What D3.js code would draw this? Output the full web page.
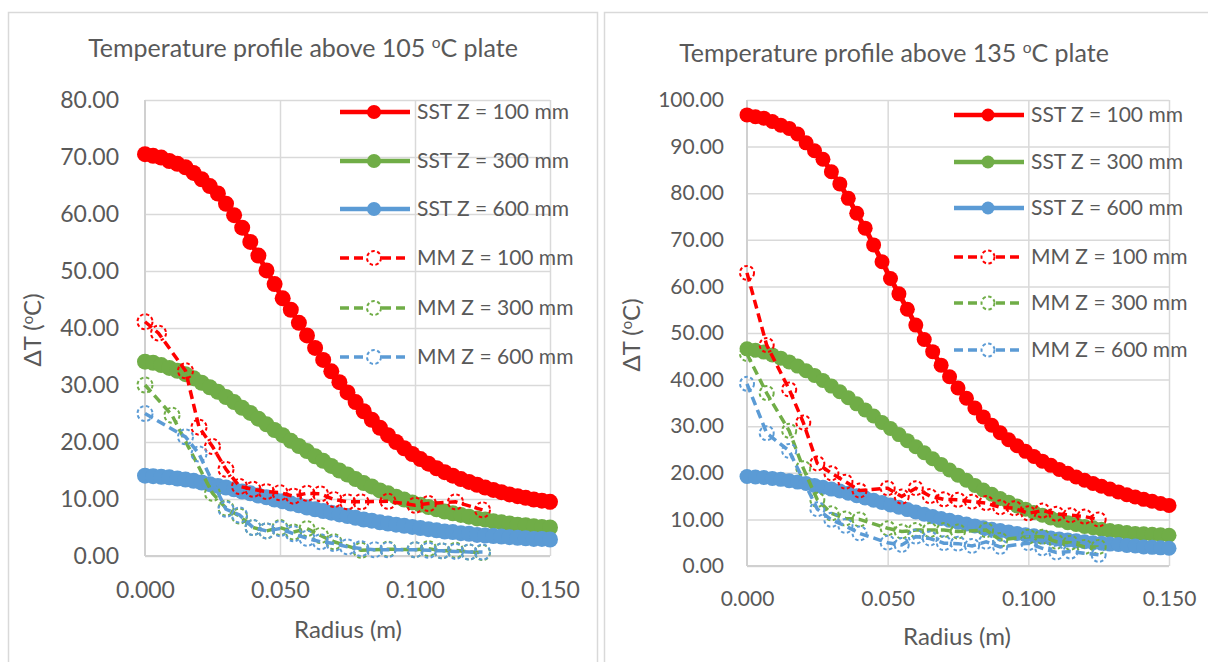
<!DOCTYPE html>
<html lang="en">
<head>
<meta charset="UTF-8"/>
<title>Temperature profiles</title>
<script src="https://d3js.org/d3.v7.min.js"></script>
<style>
	body { margin: 0; background: #fff; }
	text { font-family: Lato, "Liberation Sans", sans-serif; fill: #595959; }
</style>
</head>
<body>
<script>
	//Radius values of the SST series (same for all SST curves)
	var sstRadius = [0.000, 0.003, 0.006, 0.009, 0.012, 0.015, 0.018, 0.021, 0.024, 0.027,
		0.030, 0.033, 0.036, 0.039, 0.042, 0.045, 0.048, 0.051, 0.054, 0.057,
		0.060, 0.063, 0.066, 0.069, 0.072, 0.075, 0.078, 0.081, 0.084, 0.087,
		0.090, 0.093, 0.096, 0.099, 0.102, 0.105, 0.108, 0.111, 0.114, 0.117,
		0.120, 0.123, 0.126, 0.129, 0.132, 0.135, 0.138, 0.141, 0.144, 0.147, 0.150];

	//105 C plate - SST curves
	var sst100_105 = [70.5, 70.2, 69.9, 69.3, 68.8, 68.2, 67.2, 66.1, 64.9, 63.6,
		61.8, 59.8, 57.6, 55.1, 52.7, 50.1, 47.7, 45.2, 43.2, 40.9,
		38.7, 36.5, 34.4, 32.4, 30.5, 28.7, 27.0, 25.4, 23.9, 22.5,
		21.2, 20.0, 18.9, 17.9, 17.0, 16.2, 15.4, 14.7, 14.1, 13.5,
		13.0, 12.5, 12.0, 11.6, 11.2, 10.8, 10.5, 10.2, 9.9, 9.7, 9.5];
	var sst300_105 = [34.1, 33.9, 33.5, 33.0, 32.5, 31.9, 31.2, 30.4, 29.6, 28.8,
		27.9, 27.0, 26.0, 25.1, 24.1, 23.1, 22.1, 21.2, 20.2, 19.3,
		18.4, 17.5, 16.7, 15.8, 15.0, 14.3, 13.5, 12.8, 12.2, 11.5,
		11.0, 10.4, 9.9, 9.4, 9.0, 8.6, 8.2, 7.8, 7.5, 7.2,
		6.9, 6.6, 6.4, 6.1, 5.9, 5.7, 5.5, 5.4, 5.2, 5.1, 5.0];
	var sst600_105 = [14.1, 14.0, 13.9, 13.8, 13.6, 13.4, 13.2, 12.9, 12.6, 12.3,
		12.0, 11.7, 11.3, 11.0, 10.6, 10.3, 9.9, 9.6, 9.2, 8.9,
		8.5, 8.2, 7.9, 7.6, 7.3, 7.0, 6.7, 6.4, 6.2, 5.9,
		5.7, 5.5, 5.3, 5.1, 4.9, 4.7, 4.5, 4.3, 4.2, 4.0,
		3.9, 3.7, 3.6, 3.5, 3.4, 3.3, 3.2, 3.1, 3.0, 3.0, 2.9];

	//105 C plate - MM points [radius, dT]
	var mm100_105 = [[0, 41.1], [0.005, 39.1], [0.015, 32.5], [0.02, 22.6], [0.025, 19.2], [0.03, 15.2],
		[0.035, 12.2], [0.04, 11.7], [0.045, 11.3], [0.05, 11.1], [0.055, 10.5], [0.06, 11.0],
		[0.065, 10.9], [0.07, 9.9], [0.075, 9.5], [0.08, 9.5], [0.09, 9.6], [0.1, 8.9],
		[0.105, 9.2], [0.115, 9.5], [0.125, 8.1]];
	var mm300_105 = [[0, 30.0], [0.01, 24.7], [0.025, 11.0], [0.03, 8.4], [0.035, 7.0], [0.04, 5.0],
		[0.045, 4.4], [0.05, 5.0], [0.055, 4.2], [0.06, 4.8], [0.065, 3.6], [0.07, 2.5],
		[0.08, 1.0], [0.09, 1.2], [0.1, 1.1], [0.105, 1.3], [0.11, 0.9], [0.115, 1.0],
		[0.12, 0.7], [0.125, 0.6]];
	var mm600_105 = [[0, 25.0], [0.015, 20.9], [0.02, 17.9], [0.03, 8.2], [0.035, 7.2], [0.04, 5.0],
		[0.045, 4.4], [0.05, 4.8], [0.055, 3.9], [0.06, 3.1], [0.065, 2.5], [0.07, 2.2],
		[0.075, 1.6], [0.08, 1.3], [0.085, 1.1], [0.09, 1.1], [0.1, 1.1], [0.105, 1.0],
		[0.11, 0.9], [0.115, 0.8], [0.12, 0.7], [0.125, 0.7]];

	//135 C plate - SST curves
	var sst100_135 = [96.8, 96.4, 96.1, 95.4, 94.6, 93.9, 92.7, 90.8, 89.1, 87.3,
		84.6, 82.0, 78.9, 75.7, 72.5, 68.9, 65.3, 61.7, 58.4, 55.1,
		51.7, 48.6, 46.0, 43.1, 40.6, 38.2, 36.0, 33.9, 32.0, 30.2,
		28.6, 27.1, 25.8, 24.6, 23.5, 22.5, 21.6, 20.7, 19.9, 19.1,
		18.4, 17.7, 17.1, 16.5, 15.9, 15.3, 14.8, 14.3, 13.9, 13.4, 13.0];
	var sst300_135 = [46.6, 46.3, 45.9, 45.3, 44.6, 43.8, 42.9, 41.9, 40.9, 39.8,
		38.6, 37.4, 36.1, 34.8, 33.5, 32.2, 30.8, 29.5, 28.2, 26.9,
		25.6, 24.3, 23.0, 21.8, 20.6, 19.5, 18.4, 17.3, 16.3, 15.4,
		14.5, 13.7, 12.9, 12.2, 11.5, 10.9, 10.3, 9.8, 9.3, 8.9,
		8.5, 8.2, 7.9, 7.6, 7.4, 7.2, 7.0, 6.9, 6.8, 6.7, 6.6];
	var sst600_135 = [19.2, 19.1, 19.0, 18.8, 18.6, 18.3, 18.0, 17.7, 17.3, 16.9,
		16.5, 16.1, 15.6, 15.1, 14.6, 14.1, 13.6, 13.1, 12.6, 12.1,
		11.6, 11.1, 10.6, 10.2, 9.8, 9.4, 9.0, 8.6, 8.2, 7.9,
		7.6, 7.3, 7.0, 6.7, 6.5, 6.2, 6.0, 5.8, 5.6, 5.4,
		5.2, 5.0, 4.9, 4.7, 4.6, 4.4, 4.3, 4.1, 4.0, 3.9, 3.8];

	//135 C plate - MM points [radius, dT]
	var mm100_135 = [[0, 62.9], [0.007, 47.4], [0.015, 37.9], [0.02, 30.8], [0.025, 22.0], [0.03, 19.9],
		[0.035, 18.1], [0.04, 16.2], [0.05, 16.7], [0.055, 14.9], [0.06, 16.7], [0.065, 15.0],
		[0.07, 14.3], [0.075, 14.2], [0.08, 13.8], [0.085, 13.5], [0.09, 12.6], [0.095, 12.4],
		[0.1, 11.3], [0.105, 11.9], [0.11, 11.2], [0.115, 10.9], [0.12, 10.6], [0.125, 10.0]];
	var mm300_135 = [[0, 45.5], [0.007, 37.1], [0.015, 29.0], [0.02, 21.0], [0.025, 14.2], [0.03, 11.3],
		[0.035, 10.2], [0.04, 10.0], [0.05, 8.1], [0.055, 7.4], [0.06, 7.7], [0.065, 7.7],
		[0.07, 7.7], [0.075, 7.4], [0.085, 7.7], [0.09, 5.6], [0.1, 6.3], [0.105, 6.3],
		[0.11, 5.2], [0.115, 5.0], [0.12, 4.1], [0.125, 4.1]];
	var mm600_135 = [[0, 39.1], [0.007, 28.5], [0.015, 24.7], [0.025, 12.2], [0.03, 9.9], [0.035, 8.6],
		[0.04, 7.0], [0.05, 5.0], [0.055, 4.5], [0.06, 6.3], [0.065, 5.9], [0.07, 4.9],
		[0.075, 4.8], [0.08, 4.3], [0.085, 5.2], [0.09, 4.1], [0.1, 4.9], [0.105, 3.8],
		[0.11, 2.9], [0.115, 3.1], [0.125, 2.4]];

	var seriesNames = ["SST Z = 100 mm", "SST Z = 300 mm", "SST Z = 600 mm",
		"MM Z = 100 mm", "MM Z = 300 mm", "MM Z = 600 mm"];
	var seriesColours = ["#ff0000", "#70ad47", "#5b9bd5"];
	var xTicks = [0, 0.05, 0.1, 0.15];
	var yTicks105 = [0, 10, 20, 30, 40, 50, 60, 70, 80];
	var yTicks135 = [0, 10, 20, 30, 40, 50, 60, 70, 80, 90, 100];

	var w = 1208;
	var h = 662;

	var svg = d3.select("body")
		.append("svg")
		.attr("width", w)
		.attr("height", h);

	svg.append("rect").attr("width", w).attr("height", h).attr("fill", "#fff");

	//Chart frames
	svg.append("rect")
		.attr("x", 8.5).attr("y", 12.5)
		.attr("width", 589).attr("height", 700)
		.attr("fill", "none").attr("stroke", "#d9d9d9").attr("stroke-width", 1.5);
	svg.append("rect")
		.attr("x", 604.5).attr("y", 12.5)
		.attr("width", 700).attr("height", 700)
		.attr("fill", "none").attr("stroke", "#d9d9d9").attr("stroke-width", 1.5);

	function drawChart(c) {
		var g = svg.append("g");

		var xScale = d3.scaleLinear()
			.domain([0, 0.15])
			.range([c.left, c.right]);

		var yScale = d3.scaleLinear()
			.domain([0, d3.max(c.yTicks)])
			.range([c.bottom, c.top]);

		//Horizontal gridlines
		g.append("g")
			.attr("transform", "translate(" + c.left + ",0)")
			.call(d3.axisLeft(yScale).tickValues(c.yTicks).tickSize(-(c.right - c.left)).tickFormat(""))
			.call(function(a) { a.select(".domain").remove(); })
			.selectAll("line").attr("stroke", "#d9d9d9").attr("stroke-width", 1.5);

		//Vertical gridlines
		g.append("g")
			.attr("transform", "translate(0," + c.bottom + ")")
			.call(d3.axisBottom(xScale).tickValues(xTicks.slice(1)).tickSize(-(c.bottom - c.top)).tickFormat(""))
			.call(function(a) { a.select(".domain").remove(); })
			.selectAll("line").attr("stroke", "#d9d9d9").attr("stroke-width", 1.5);

		//Axis lines
		g.append("line")
			.attr("x1", c.left).attr("x2", c.left)
			.attr("y1", c.top).attr("y2", c.bottom)
			.attr("stroke", "#d0d0d0").attr("stroke-width", 2);
		g.append("line")
			.attr("x1", c.left).attr("x2", c.right)
			.attr("y1", c.bottom).attr("y2", c.bottom)
			.attr("stroke", "#d0d0d0").attr("stroke-width", 2);

		//Tick labels
		var yAxis = g.append("g")
			.attr("transform", "translate(" + c.left + ",0)")
			.call(d3.axisLeft(yScale).tickValues(c.yTicks).tickSize(0).tickPadding(c.yPad).tickFormat(d3.format(".2f")));
		yAxis.select(".domain").remove();
		yAxis.selectAll("text").attr("font-size", c.tickSize).attr("font-family", null).attr("fill", null);

		var xAxis = g.append("g")
			.attr("transform", "translate(0," + c.bottom + ")")
			.call(d3.axisBottom(xScale).tickValues(xTicks).tickSize(0).tickPadding(c.xPad).tickFormat(d3.format(".3f")));
		xAxis.select(".domain").remove();
		xAxis.selectAll("text").attr("font-size", c.tickSize).attr("font-family", null).attr("fill", null);

		//Titles
		var title = g.append("text")
			.attr("x", c.titleX).attr("y", c.titleY)
			.attr("text-anchor", "middle")
			.attr("font-size", c.titleSize);
		title.append("tspan").text("Temperature profile above " + c.plate + " ");
		title.append("tspan").attr("font-size", c.titleSize * 0.62).attr("dy", -9).text("o");
		title.append("tspan").attr("dy", 9).text("C plate");

		g.append("text")
			.attr("x", c.xTitleX).attr("y", c.xTitleY)
			.attr("text-anchor", "middle")
			.attr("font-size", c.axisTitleSize)
			.text("Radius (m)");

		var yTitle = g.append("text")
			.attr("transform", "translate(" + c.yTitleX + "," + c.yTitleY + ") rotate(-90)")
			.attr("text-anchor", "middle")
			.attr("font-size", c.axisTitleSize);
		yTitle.append("tspan").text("\u0394T (");
		yTitle.append("tspan").attr("font-size", c.axisTitleSize * 0.62).attr("dy", -8).text("o");
		yTitle.append("tspan").attr("dy", 8).text("C)");

		//Series
		var sstLine = d3.line()
			.x(function(d) { return xScale(d[0]); })
			.y(function(d) { return yScale(d[1]); });

		c.sst.forEach(function(vals, i) {
			var pts = sstRadius.map(function(r, k) { return [r, vals[k]]; });
			g.append("path")
				.datum(pts)
				.attr("d", sstLine)
				.attr("fill", "none")
				.attr("stroke", seriesColours[i])
				.attr("stroke-width", 5);
			g.selectAll(null)
				.data(pts)
				.enter()
				.append("circle")
				.attr("cx", function(d) { return xScale(d[0]); })
				.attr("cy", function(d) { return yScale(d[1]); })
				.attr("r", c.dotR)
				.attr("fill", seriesColours[i]);
		});

		c.mm.forEach(function(pts, i) {
			g.append("path")
				.datum(pts)
				.attr("d", sstLine)
				.attr("fill", "none")
				.attr("stroke", seriesColours[i])
				.attr("stroke-width", 3.5)
				.attr("stroke-dasharray", "9,5");
			g.selectAll(null)
				.data(pts)
				.enter()
				.append("circle")
				.attr("cx", function(d) { return xScale(d[0]); })
				.attr("cy", function(d) { return yScale(d[1]); })
				.attr("r", c.ringR)
				.attr("fill", "none")
				.attr("stroke", seriesColours[i])
				.attr("stroke-width", 2)
				.attr("stroke-dasharray", "3.5,2.5");
		});

		//Legend
		var leg = g.append("g");
		seriesNames.forEach(function(name, i) {
			var y = c.legY[i];
			var col = seriesColours[i % 3];
			var mm = i >= 3;
			leg.append("line")
				.attr("x1", c.legX).attr("x2", c.legX + 70)
				.attr("y1", y).attr("y2", y)
				.attr("stroke", col)
				.attr("stroke-width", mm ? 3.5 : 4.5)
				.attr("stroke-dasharray", mm ? "9,5" : null);
			leg.append("circle")
				.attr("cx", c.legX + 34).attr("cy", y)
				.attr("r", mm ? c.ringR - 0.5 : c.dotR - 1)
				.attr("fill", mm ? "#fff" : col)
				.attr("stroke", mm ? col : null)
				.attr("stroke-width", 2)
				.attr("stroke-dasharray", mm ? "3.5,2.5" : null);
			leg.append("text")
				.attr("x", c.legX + 77).attr("y", y)
				.attr("dy", "0.35em")
				.attr("font-size", c.legSize)
				.text(name);
		});
	}

	drawChart({
		plate: "105", left: 145, right: 550, top: 100, bottom: 556,
		yTicks: yTicks105, yPad: 26, xPad: 26, tickSize: 23,
		titleX: 303, titleY: 57, titleSize: 25,
		xTitleX: 348, xTitleY: 638, yTitleX: 41, yTitleY: 330, axisTitleSize: 24,
		dotR: 8, ringR: 7.5,
		legX: 340, legY: [112, 161, 209, 258, 308, 357], legSize: 21,
		sst: [sst100_105, sst300_105, sst600_105],
		mm: [mm100_105, mm300_105, mm600_105]
	});

	drawChart({
		plate: "135", left: 747, right: 1169, top: 100, bottom: 566,
		yTicks: yTicks135, yPad: 23, xPad: 25, tickSize: 21,
		titleX: 894, titleY: 62, titleSize: 25,
		xTitleX: 957, xTitleY: 645, yTitleX: 640, yTitleY: 335, axisTitleSize: 24,
		dotR: 7.5, ringR: 7,
		legX: 954, legY: [115, 162, 208, 257, 303, 350], legSize: 21,
		sst: [sst100_135, sst300_135, sst600_135],
		mm: [mm100_135, mm300_135, mm600_135]
	});
</script>
</body>
</html>
